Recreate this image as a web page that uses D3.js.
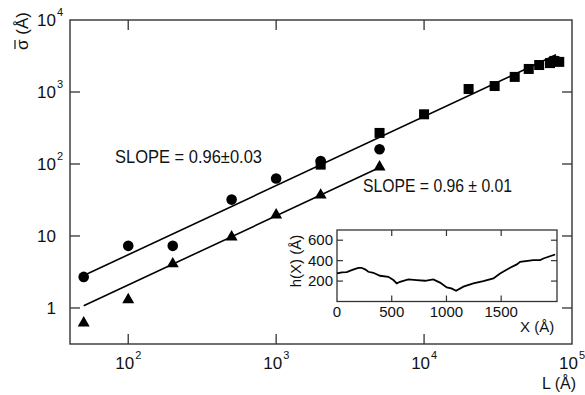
<!DOCTYPE html>
<html>
<head>
<meta charset="utf-8">
<script src="https://cdn.jsdelivr.net/npm/d3@7"></script>
<style>
  body { margin: 0; background: #fff; }
  svg { display: block; }
  text { font-family: "Liberation Sans", Arial, sans-serif; fill: #111; }
</style>
</head>
<body>
<svg id="graph" width="585" height="395"></svg>
<script>
// roughness data: sigma vs L (log-log)
var circleL = [50, 100, 200, 500, 1000, 2000, 5000];
var circleS = [2.7, 7.3, 7.3, 32, 63, 110, 160];
var triL = [50, 100, 200, 500, 1000, 2000, 5000];
var triS = [0.62, 1.3, 4.1, 9.7, 19.6, 37, 91];
var squareL = [2000, 5000, 10000, 20000, 30000, 41000, 51000, 60000, 71000, 76000, 82000];
var squareS = [98, 270, 490, 1100, 1210, 1620, 2090, 2370, 2520, 2700, 2620];

// fitted power laws  sigma = coef * L^slope
var fitSlope = [0.96, 0.96];
var fitCoef = [0.066, 0.0251];
var fitFrom = [50, 50];
var fitTo = [78000, 5000];
var fitText = ["SLOPE = 0.96\u00B10.03", "SLOPE = 0.96 \u00B1 0.01"];

var xTicks = [100, 1000, 10000, 100000];
var xExp = ["2", "3", "4", "5"];
var yTicks = [1, 10, 100, 1000, 10000];
var yLabels = [["1", ""], ["10", ""], ["10", "2"], ["10", "3"], ["10", "4"]];

// inset profile h(X)
var hX = [0, 45, 89, 140, 195, 225, 260, 286, 332, 393, 469, 515, 546, 576, 652, 728, 804, 880, 941, 1003, 1045, 1088, 1155, 1246, 1337, 1429, 1490, 1581, 1643, 1673, 1794, 1856, 1886, 1993];
var hY = [275, 285, 288, 310, 330, 330, 312, 291, 281, 252, 242, 210, 178, 193, 216, 210, 203, 217, 185, 138, 128, 105, 145, 178, 200, 226, 275, 330, 363, 388, 405, 405, 421, 460];
var hTicksX = [0, 500, 1000, 1500];
var hTicksY = [200, 400, 600];

var svg = d3.select("svg");

var x = d3.scaleLog().domain([40.4, 1e5]).range([70, 572]);
var y = d3.scaleLog().domain([0.316, 1e4]).range([344, 20]);

var frameCol = "#333";

// frame
svg.append("rect")
  .attr("x", 70).attr("y", 20)
  .attr("width", 502).attr("height", 324)
  .attr("fill", "none").attr("stroke", frameCol).attr("stroke-width", 1.4);

// inward ticks on all four sides
var tl = 10;
xTicks.filter(function(d){ return d < 1e5; }).forEach(function(d){
  svg.append("line").attr("x1", x(d)).attr("x2", x(d)).attr("y1", 344).attr("y2", 344 - tl)
    .attr("stroke", frameCol).attr("stroke-width", 1.3);
  svg.append("line").attr("x1", x(d)).attr("x2", x(d)).attr("y1", 20).attr("y2", 20 + tl)
    .attr("stroke", frameCol).attr("stroke-width", 1.3);
});
yTicks.filter(function(d){ return d < 1e4; }).forEach(function(d){
  svg.append("line").attr("x1", 70).attr("x2", 70 + tl).attr("y1", y(d)).attr("y2", y(d))
    .attr("stroke", frameCol).attr("stroke-width", 1.3);
  svg.append("line").attr("x1", 572).attr("x2", 572 - tl).attr("y1", y(d)).attr("y2", y(d))
    .attr("stroke", frameCol).attr("stroke-width", 1.3);
});

// x tick labels
xTicks.forEach(function(d, i){
  svg.append("text").attr("x", x(d) + 6).attr("y", 369)
    .attr("text-anchor", "end").style("font-size", "17px").text("10");
  svg.append("text").attr("x", x(d) + 7).attr("y", 359)
    .style("font-size", "11px").text(xExp[i]);
});

// y tick labels
yTicks.forEach(function(d, i){
  svg.append("text").attr("x", 56).attr("y", y(d) + 6)
    .attr("text-anchor", "end").style("font-size", "17px").text(yLabels[i][0]);
  if (yLabels[i][1])
    svg.append("text").attr("x", 57).attr("y", y(d) - 4)
      .style("font-size", "11px").text(yLabels[i][1]);
});

// axis titles
var yt = svg.append("g").attr("transform", "translate(28,31) rotate(-90)");
yt.append("text").attr("x", -19).attr("y", 0).style("font-size", "17px").text("\u03C3 (\u00C5)");
yt.append("line").attr("x1", -18).attr("x2", -9).attr("y1", -13).attr("y2", -13)
  .attr("stroke", "#111").attr("stroke-width", 1.2);
svg.append("text").attr("x", 542).attr("y", 389).style("font-size", "16px").text("L (\u00C5)");

// fit lines
var line = d3.line().x(function(d){ return x(d[0]); }).y(function(d){ return y(d[1]); });
fitSlope.forEach(function(s, i){
  var pts = [fitFrom[i], fitTo[i]].map(function(L){ return [L, fitCoef[i] * Math.pow(L, s)]; });
  svg.append("path").attr("d", line(pts)).attr("fill", "none")
    .attr("stroke", "#000").attr("stroke-width", 1.6);
});

// markers
svg.selectAll("circle.pt").data(circleL).enter().append("circle")
  .attr("class", "pt")
  .attr("cx", function(d){ return x(d); })
  .attr("cy", function(d, i){ return y(circleS[i]); })
  .attr("r", 5.3).attr("fill", "#000");

var tri = d3.symbol().type(d3.symbolTriangle).size(62);
svg.selectAll("path.tri").data(triL).enter().append("path")
  .attr("class", "tri")
  .attr("d", tri)
  .attr("transform", function(d, i){ return "translate(" + x(d) + "," + y(triS[i]) + ")"; })
  .attr("fill", "#000");

svg.selectAll("rect.sq").data(squareL).enter().append("rect")
  .attr("class", "sq")
  .attr("x", function(d){ return x(d) - 5; })
  .attr("y", function(d, i){ return y(squareS[i]) - 5; })
  .attr("width", 10).attr("height", 10).attr("fill", "#000");

// slope annotations
svg.append("text").attr("x", 115).attr("y", 163).style("font-size", "18px")
  .attr("textLength", 147).attr("lengthAdjust", "spacingAndGlyphs").text(fitText[0]);
svg.append("text").attr("x", 363).attr("y", 192).style("font-size", "18px")
  .attr("textLength", 149).attr("lengthAdjust", "spacingAndGlyphs").text(fitText[1]);

// inset
var xi = d3.scaleLinear().domain([0, 2010]).range([337, 557]);
var yi = d3.scaleLinear().domain([0, 700]).range([301.5, 230]);

svg.append("rect").attr("x", 337).attr("y", 230).attr("width", 220).attr("height", 71.5)
  .attr("fill", "#fff").attr("stroke", frameCol).attr("stroke-width", 1.3);

var itl = 6;
hTicksX.filter(function(d){ return d > 0; }).forEach(function(d){
  svg.append("line").attr("x1", xi(d)).attr("x2", xi(d)).attr("y1", 230).attr("y2", 230 + itl)
    .attr("stroke", frameCol).attr("stroke-width", 1.2);
  svg.append("line").attr("x1", xi(d)).attr("x2", xi(d)).attr("y1", 301.5).attr("y2", 301.5 - itl)
    .attr("stroke", frameCol).attr("stroke-width", 1.2);
});
hTicksY.forEach(function(d){
  svg.append("line").attr("x1", 337).attr("x2", 337 + itl).attr("y1", yi(d)).attr("y2", yi(d))
    .attr("stroke", frameCol).attr("stroke-width", 1.2);
  svg.append("line").attr("x1", 557).attr("x2", 557 - itl).attr("y1", yi(d)).attr("y2", yi(d))
    .attr("stroke", frameCol).attr("stroke-width", 1.2);
});

hTicksX.forEach(function(d){
  svg.append("text").attr("x", xi(d)).attr("y", 317).attr("text-anchor", "middle")
    .style("font-size", "15px").text(d);
});
hTicksY.forEach(function(d){
  svg.append("text").attr("x", 333).attr("y", yi(d) + 5).attr("text-anchor", "end")
    .style("font-size", "15px").text(d);
});

svg.append("text").attr("transform", "translate(301,261) rotate(-90)")
  .attr("text-anchor", "middle").style("font-size", "15px").text("h(X) (\u00C5)");
svg.append("text").attr("x", 520).attr("y", 332).style("font-size", "15px").text("X (\u00C5)");

var hline = d3.line().x(function(d){ return xi(d); }).y(function(d, i){ return yi(hY[i]); });
svg.append("path").attr("d", hline(hX)).attr("fill", "none")
  .attr("stroke", "#000").attr("stroke-width", 1.8);
</script>
</body>
</html>
